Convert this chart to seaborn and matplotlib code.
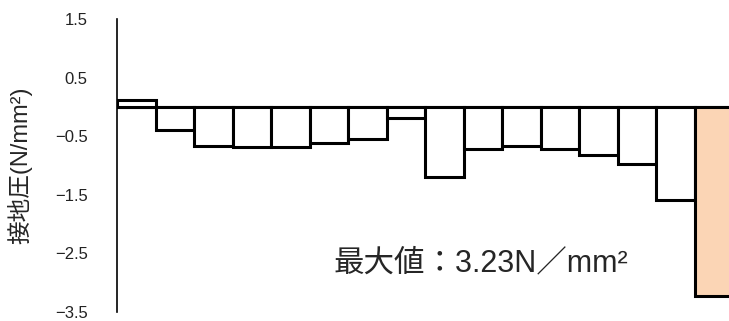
import matplotlib
matplotlib.use("Agg")
import matplotlib.pyplot as plt
import seaborn as sns
import pandas as pd

# contact pressure per position (N/mm2)
positions = [str(i) for i in range(1, 17)]
pressure = [0.12, -0.40, -0.67, -0.69, -0.68, -0.62, -0.55, -0.19,
            -1.20, -0.71, -0.67, -0.71, -0.82, -0.97, -1.59, -3.23]
yticks = [1.5, 0.5, -0.5, -1.5, -2.5, -3.5]
ytick_labels = ["1.5", "0.5", "\u22120.5", "\u22121.5", "\u22122.5", "\u22123.5"]

sns.set_style("white")
plt.rcParams['font.family'] = ['Liberation Sans', 'Noto Sans CJK JP', 'DejaVu Sans']

df = pd.DataFrame({"pos": positions, "p": pressure})
colors = ["white"] * 15 + ["#fbd5b5"]

fig = plt.figure(figsize=(7.29, 3.21), dpi=100)
ax = fig.add_axes([117/729, 9/321, 616/729, 293/321])

sns.barplot(data=df, x="pos", y="p", hue="pos", palette=colors, legend=False,
            width=1.0, edgecolor="black", linewidth=2.2, saturation=1, ax=ax)
ax.axhline(0, color="black", lw=2.2, zorder=0)

ax.set_xlim(-0.5, 15.5)
ax.set_ylim(-3.5, 1.5)
ax.set_yticks(yticks)
ax.set_yticklabels(ytick_labels, fontsize=12, color="#222222")
ax.set_xticks([])
ax.set_xlabel("")
ax.set_ylabel("接地圧(N/mm²)", fontsize=17, labelpad=16)
ax.tick_params(axis="y", length=0, pad=21)

for s in ["top", "right", "bottom"]:
    ax.spines[s].set_visible(False)
ax.spines["left"].set_linewidth(1.2)
ax.spines["left"].set_color("black")

ax.text(0.352, 0.165, "最大値：3.23N／mm²", transform=ax.transAxes,
        fontsize=22, ha="left", va="center")

fig.savefig("out.png", dpi=100)
